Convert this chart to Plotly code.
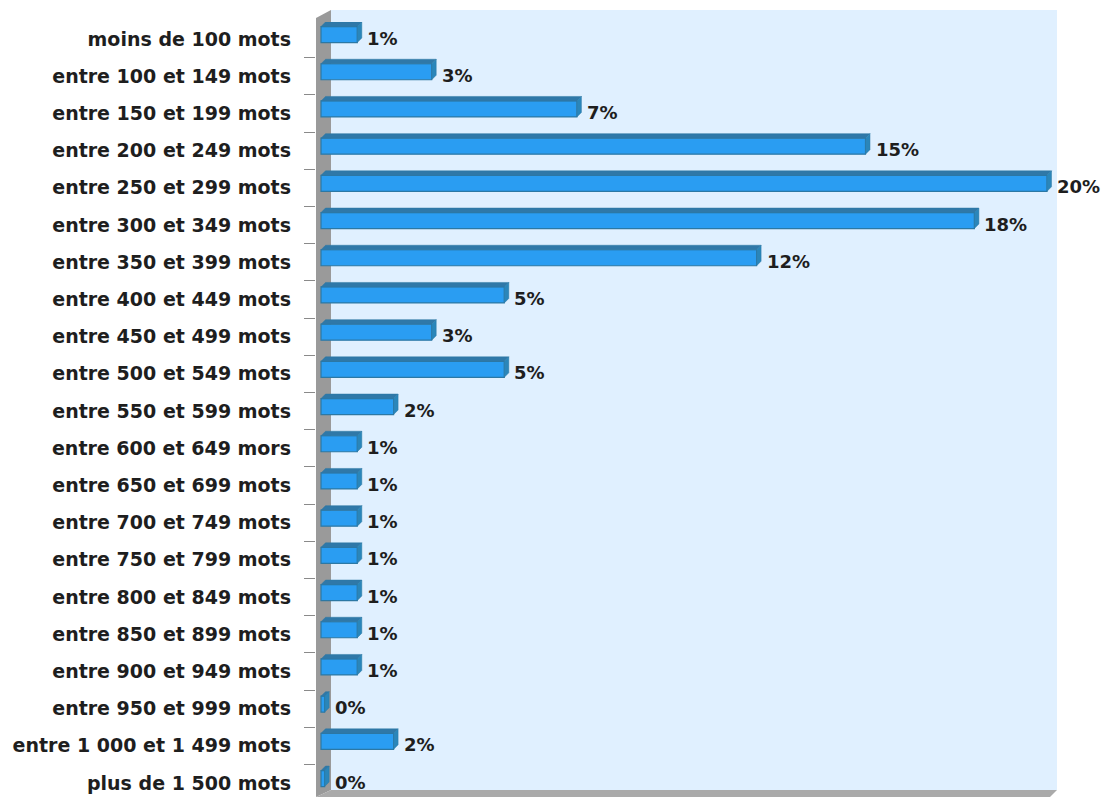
import plotly.graph_objects as go

categories = [
    "moins de 100 mots", "entre 100 et 149 mots", "entre 150 et 199 mots",
    "entre 200 et 249 mots", "entre 250 et 299 mots", "entre 300 et 349 mots",
    "entre 350 et 399 mots", "entre 400 et 449 mots", "entre 450 et 499 mots",
    "entre 500 et 549 mots", "entre 550 et 599 mots", "entre 600 et 649 mors",
    "entre 650 et 699 mots", "entre 700 et 749 mots", "entre 750 et 799 mots",
    "entre 800 et 849 mots", "entre 850 et 899 mots", "entre 900 et 949 mots",
    "entre 950 et 999 mots", "entre 1 000 et 1 499 mots", "plus de 1 500 mots",
]
values = [1.0, 3.05, 7.05, 15.0, 20.0, 18.0, 12.0, 5.05, 3.05, 5.05, 2.0,
          1.0, 1.0, 1.0, 1.0, 1.0, 1.0, 1.0, 0.1, 2.0, 0.1]

OFF = 8                                   # page body margin
W, H = 1110 - OFF, 798 - OFF
# plot area in reference-pixel coordinates
L, R, T, B = 316, 1057, 22, 798
X0PX = 321                                # pixel of value 0
KX = 36.3                                 # px per percent
KY = 37.2                                 # px per category
Y0PX = 39                                 # pixel of first category

xr = [-(X0PX - L) / KX, (R - X0PX) / KX]
r0 = -(Y0PX - T) / KY
r1 = r0 + (B - T) / KY
bw = 0.43
sh = -0.12                                # bar shift relative to label
dx = 4.5 / KX
dy = 4.5 / KY

FACE = "#2A9DF2"
EDGE = "#2C78A4"
TOP = "#2F78A8"
SIDE = "#2A86BA"
FONT = dict(family="DejaVu Sans", size=19, color="#1E1E1E", weight="bold")
VFONT = dict(family="DejaVu Sans", size=18, color="#1E1E1E", weight="bold")

ys = list(range(len(categories)))

fig = go.Figure()

tx, ty, sx, sy = [], [], [], []
for i, v in zip(ys, values):
    yt = i + sh - bw / 2
    yb = i + sh + bw / 2
    tx += [0, v, v + dx, dx, 0, None]
    ty += [yt, yt, yt - dy, yt - dy, yt, None]
    sx += [v, v + dx, v + dx, v, v, None]
    sy += [yt, yt - dy, yb - dy, yb, yt, None]

fig.add_trace(go.Scatter(x=tx, y=ty, fill="toself", fillcolor=TOP, mode="lines",
                         line=dict(color=EDGE, width=0.5), hoverinfo="skip", showlegend=False))
fig.add_trace(go.Scatter(x=sx, y=sy, fill="toself", fillcolor=SIDE, mode="lines",
                         line=dict(color=EDGE, width=0.5), hoverinfo="skip", showlegend=False))
fig.add_trace(go.Bar(x=values, y=ys, orientation="h", width=bw, base=0,
                     offset=sh - bw / 2,
                     marker=dict(color=FACE, line=dict(color=EDGE, width=1.2)),
                     showlegend=False))

for i, v in zip(ys, values):
    fig.add_annotation(x=v, y=i, text="{:.0f}%".format(v), showarrow=False,
                       xanchor="left", xshift=8, yshift=1, font=VFONT)

def px(x):
    return (x - L) / (R - L)

def py(y):
    return (B - y) / (B - T)

def path(pts):
    return "M " + " L ".join("{:.5f},{:.5f}".format(px(a), py(b)) for a, b in pts) + " Z"

shapes = [
    dict(type="path", xref="paper", yref="paper", layer="below",
         path=path([(331, 10), (1057, 10), (1057, 790), (331, 790)]),
         fillcolor="#E0F0FF", line=dict(width=0)),
    dict(type="path", xref="paper", yref="paper", layer="below",
         path=path([(316, 18), (331, 10), (331, 790), (316, 797)]),
         fillcolor="#9A9A9A", line=dict(width=0)),
    dict(type="path", xref="paper", yref="paper", layer="below",
         path=path([(316, 797), (331, 790), (1057, 790), (1050, 797)]),
         fillcolor="#AAAAAA", line=dict(width=0)),
]

fig.update_layout(
    width=W, height=H,
    margin=dict(l=L - OFF, r=W - (R - OFF), t=T - OFF, b=H - (B - OFF), pad=0),
    paper_bgcolor="white", plot_bgcolor="rgba(0,0,0,0)",
    shapes=shapes, barmode="overlay",
    xaxis=dict(range=xr, visible=False, fixedrange=True),
    yaxis=dict(range=[r1, r0], tickmode="array", tickvals=ys,
               ticktext=categories, ticks="", showgrid=False, zeroline=False,
               showline=False, ticklabelstandoff=24, tickfont=FONT,
               minor=dict(tickmode="linear", tick0=0.5, dtick=1, ticks="outside",
                          ticklen=11, tickcolor="#8A8A8A", tickwidth=1, showgrid=False)),
)

fig.write_html("out.html")
